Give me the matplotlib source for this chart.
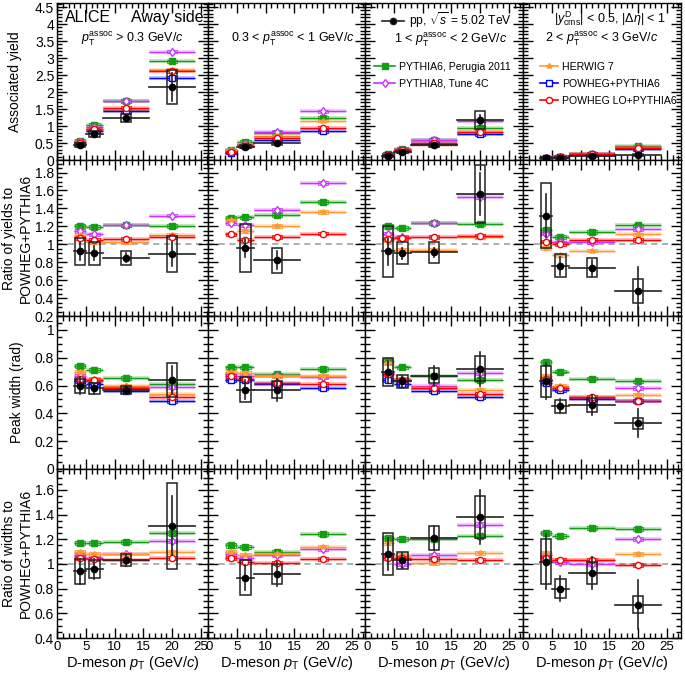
import numpy as np
import matplotlib.pyplot as plt
from matplotlib.patches import Rectangle
from matplotlib.lines import Line2D
from matplotlib.ticker import MultipleLocator, FuncFormatter
from matplotlib.transforms import offset_copy

plt.rcParams['font.family'] = ['Liberation Sans', 'DejaVu Sans']
plt.rcParams['mathtext.fontset'] = 'custom'
plt.rcParams['mathtext.rm'] = 'Liberation Sans'
plt.rcParams['mathtext.it'] = 'Liberation Sans:italic'
plt.rcParams['mathtext.bf'] = 'Liberation Sans:bold'

nan = np.nan

# D-meson pT bins (GeV/c)
pt_centres = [4, 6.5, 12, 20]
pt_low = [3, 5, 8, 16]
pt_high = [5, 8, 16, 24]

assoc_labels = [r'$p_{\rm T}^{\rm assoc}$ > 0.3 GeV/$c$',
                r'0.3 < $p_{\rm T}^{\rm assoc}$ < 1 GeV/$c$',
                r'1 < $p_{\rm T}^{\rm assoc}$ < 2 GeV/$c$',
                r'2 < $p_{\rm T}^{\rm assoc}$ < 3 GeV/$c$']

model_names = ['PYTHIA6, Perugia 2011', 'PYTHIA8, Tune 4C', 'HERWIG 7',
               'POWHEG+PYTHIA6', 'POWHEG LO+PYTHIA6']

# ---------------- associated yield ----------------
yield_data = [[0.43, 0.77, 1.23, 2.15], [nan, 0.39, 0.49, nan],
              [0.13, 0.24, 0.43, 1.18], [0.065, 0.07, 0.12, 0.16]]
yield_stat = [[0.04, 0.05, 0.05, 0.40], [0, 0.04, 0.04, 0],
              [0.01, 0.01, 0.03, 0.15], [0.01, 0.01, 0.02, 0.06]]
yield_sys = [[0.06, 0.085, 0.11, 0.49], [0, 0.05, 0.04, 0],
             [0.02, 0.03, 0.05, 0.27], [0.02, 0.01, 0.02, 0.03]]
yield_pythia6 = [[0.56, 1.02, 1.73, 2.90], [0.28, 0.52, 0.80, 1.25],
                 [0.17, 0.32, 0.58, 0.94], [0.06, 0.10, 0.18, 0.40]]
yield_pythia8 = [[0.54, 0.96, 1.73, 3.19], [0.27, 0.48, 0.83, 1.43],
                 [0.16, 0.29, 0.58, 1.16], [0.056, 0.092, 0.163, 0.39]]
yield_herwig = [[0.52, 0.88, 1.46, 2.66], [0.28, 0.46, 0.72, 1.16],
                [0.15, 0.25, 0.44, 0.82], [0.048, 0.079, 0.149, 0.37]]
yield_powheg = [[0.47, 0.86, 1.43, 2.42], [0.22, 0.40, 0.60, 0.85],
                [0.14, 0.27, 0.47, 0.76], [0.05, 0.09, 0.16, 0.33]]
yield_powheg_lo = [[0.50, 0.90, 1.52, 2.61], [0.245, 0.42, 0.65, 0.95],
                   [0.15, 0.29, 0.51, 0.83], [0.052, 0.09, 0.168, 0.35]]

# ---------------- ratio of yields ----------------
ryield_data = [[0.92, 0.90, 0.85, 0.89], [nan, 0.96, 0.82, nan],
               [0.92, 0.90, 0.91, 1.56], [1.32, 0.76, 0.74, 0.48]]
ryield_stat = [[0.10, 0.08, 0.05, 0.13], [0, 0.10, 0.10, 0],
               [0.15, 0.06, 0.05, 0.23], [0.24, 0.10, 0.09, 0.27]]
ryield_sys = [[0.155, 0.13, 0.08, 0.20], [0, 0.27, 0.14, 0],
              [0.28, 0.12, 0.12, 0.32], [0.36, 0.13, 0.11, 0.13]]
ryield_pythia6 = [[1.20, 1.19, 1.21, 1.20], [1.29, 1.30, 1.33, 1.47],
                  [1.20, 1.18, 1.24, 1.23], [1.16, 1.08, 1.14, 1.21]]
ryield_pythia8 = [[1.15, 1.11, 1.21, 1.32], [1.24, 1.21, 1.38, 1.68],
                  [1.12, 1.08, 1.24, 1.53], [1.12, 1.02, 1.02, 1.17]]
ryield_herwig = [[1.10, 1.02, 1.02, 1.10], [1.27, 1.15, 1.20, 1.36],
                 [1.05, 0.94, 0.94, 1.08], [0.96, 0.88, 0.93, 1.11]]
ryield_powheg_lo = [[1.07, 1.05, 1.06, 1.08], [1.11, 1.05, 1.08, 1.12],
                    [1.06, 1.07, 1.08, 1.09], [1.03, 1.00, 1.05, 1.05]]

# ---------------- peak width ----------------
width_data = [[0.60, 0.58, 0.57, 0.64], [nan, 0.57, 0.57, nan],
              [0.70, 0.63, 0.67, 0.72], [0.63, 0.45, 0.46, 0.33]]
width_stat = [[0.06, 0.04, 0.03, 0.10], [0, 0.07, 0.08, 0],
              [0.08, 0.04, 0.07, 0.12], [0.13, 0.05, 0.07, 0.10]]
width_sys = [[0.05, 0.04, 0.03, 0.12], [0, 0.09, 0.06, 0],
             [0.10, 0.045, 0.055, 0.09], [0.11, 0.045, 0.05, 0.04]]
width_pythia6 = [[0.74, 0.71, 0.655, 0.61], [0.73, 0.73, 0.68, 0.72],
                 [0.78, 0.73, 0.67, 0.64], [0.77, 0.70, 0.65, 0.63]]
width_pythia8 = [[0.67, 0.63, 0.59, 0.59], [0.68, 0.67, 0.67, 0.66],
                 [0.69, 0.64, 0.60, 0.69], [0.64, 0.58, 0.51, 0.58]]
width_herwig = [[0.70, 0.65, 0.60, 0.54], [0.70, 0.69, 0.67, 0.67],
                [0.76, 0.65, 0.58, 0.57], [0.67, 0.60, 0.52, 0.53]]
width_powheg = [[0.63, 0.61, 0.56, 0.49], [0.64, 0.64, 0.61, 0.58],
                [0.64, 0.61, 0.56, 0.52], [0.62, 0.57, 0.50, 0.49]]
width_powheg_lo = [[0.65, 0.64, 0.58, 0.52], [0.67, 0.65, 0.62, 0.61],
                   [0.68, 0.64, 0.58, 0.54], [0.65, 0.58, 0.52, 0.49]]

# ---------------- ratio of widths ----------------
rwidth_data = [[0.94, 0.96, 1.03, 1.31], [nan, 0.89, 0.92, nan],
               [1.08, 1.03, 1.21, 1.38], [1.02, 0.80, 0.93, 0.67]]
rwidth_stat = [[0.10, 0.08, 0.05, 0.24], [0, 0.10, 0.10, 0],
               [0.13, 0.06, 0.10, 0.22], [0.22, 0.10, 0.13, 0.20]]
rwidth_sys = [[0.10, 0.07, 0.05, 0.35], [0, 0.14, 0.08, 0],
              [0.17, 0.07, 0.10, 0.17], [0.18, 0.075, 0.09, 0.07]]
rwidth_pythia6 = [[1.17, 1.17, 1.18, 1.25], [1.15, 1.14, 1.10, 1.24],
                  [1.21, 1.20, 1.20, 1.23], [1.25, 1.23, 1.29, 1.28]]
rwidth_pythia8 = [[1.07, 1.05, 1.08, 1.19], [1.08, 1.05, 1.07, 1.12],
                  [1.07, 1.00, 1.07, 1.32], [1.07, 1.02, 1.00, 1.20]]
rwidth_herwig = [[1.10, 1.08, 1.08, 1.10], [1.10, 1.07, 1.08, 1.14],
                 [1.17, 1.07, 1.01, 1.09], [1.09, 1.03, 1.03, 1.08]]
rwidth_powheg_lo = [[1.05, 1.04, 1.03, 1.05], [1.05, 1.02, 1.01, 1.04],
                    [1.05, 1.05, 1.04, 1.03], [1.05, 1.03, 1.03, 0.99]]

GREEN = '#12a012'
MAGENTA = '#cc33ff'
ORANGE = '#ff9933'
BLUE = '#0000ff'
RED = '#ff0000'

model_styles = {
    'PYTHIA6, Perugia 2011': (GREEN, 's', True),
    'PYTHIA8, Tune 4C': (MAGENTA, 'd', False),
    'HERWIG 7': (ORANGE, '*', True),
    'POWHEG+PYTHIA6': (BLUE, 's', False),
    'POWHEG LO+PYTHIA6': (RED, 'o', False),
}

rows = [
    dict(data=(yield_data, yield_stat, yield_sys),
         models=[('PYTHIA6, Perugia 2011', yield_pythia6), ('PYTHIA8, Tune 4C', yield_pythia8),
                 ('HERWIG 7', yield_herwig), ('POWHEG+PYTHIA6', yield_powheg),
                 ('POWHEG LO+PYTHIA6', yield_powheg_lo)],
         ylim=(0, 4.62), major=0.5, minor=0.1, ratio=False),
    dict(data=(ryield_data, ryield_stat, ryield_sys),
         models=[('PYTHIA6, Perugia 2011', ryield_pythia6), ('PYTHIA8, Tune 4C', ryield_pythia8),
                 ('HERWIG 7', ryield_herwig), ('POWHEG LO+PYTHIA6', ryield_powheg_lo)],
         ylim=(0.2, 1.94), major=0.2, minor=0.05, ratio=True),
    dict(data=(width_data, width_stat, width_sys),
         models=[('PYTHIA6, Perugia 2011', width_pythia6), ('PYTHIA8, Tune 4C', width_pythia8),
                 ('HERWIG 7', width_herwig), ('POWHEG+PYTHIA6', width_powheg),
                 ('POWHEG LO+PYTHIA6', width_powheg_lo)],
         ylim=(0, 1.1), major=0.2, minor=0.05, ratio=False),
    dict(data=(rwidth_data, rwidth_stat, rwidth_sys),
         models=[('PYTHIA6, Perugia 2011', rwidth_pythia6), ('PYTHIA8, Tune 4C', rwidth_pythia8),
                 ('HERWIG 7', rwidth_herwig), ('POWHEG LO+PYTHIA6', rwidth_powheg_lo)],
         ylim=(0.4, 1.77), major=0.2, minor=0.05, ratio=True),
]

# panel frames in pixels (image is 685 x 674)
W, H = 685, 674
col_edges = [57, 208, 365, 523, 681]
row_edges = [3, 160, 316, 469, 638]
px_per_unit = 5.75

ylabels = ['Associated yield', 'Ratio of yields to\nPOWHEG+PYTHIA6',
           'Peak width (rad)', 'Ratio of widths to\nPOWHEG+PYTHIA6']
# right edge of each y label, in pixels
ylabel_right = [22, 33, 24, 33]


def draw_model(ax, vals, name, yr):
    colour, marker, filled = model_styles[name]
    half = 0.012 * (yr[1] - yr[0])
    for xc, lo, hi, v in zip(pt_centres, pt_low, pt_high, vals):
        ax.plot([lo, hi], [v, v], color=colour, lw=2.8, alpha=0.25, solid_capstyle='butt')
        ax.plot([lo, hi], [v, v], color=colour, lw=1.0, solid_capstyle='butt')
        ax.add_patch(Rectangle((xc - 0.9, v - half), 1.8, 2 * half, fill=False,
                               edgecolor=colour, lw=0.8, alpha=0.8))
    ax.plot(pt_centres, vals, linestyle='none', marker=marker, ms=4.5 if marker != '*' else 4,
            color=colour, mfc=colour if filled else 'white', mew=1.0)


def draw_data(ax, vals, stat, sys):
    for xc, lo, hi, v, e, s in zip(pt_centres, pt_low, pt_high, vals, stat, sys):
        if np.isnan(v):
            continue
        ax.add_patch(Rectangle((xc - 0.9, v - s), 1.8, 2 * s, fill=False,
                               edgecolor='#222222', lw=1.1, zorder=5))
        ax.plot([lo, hi], [v, v], color='#222222', lw=1.2, zorder=5)
        ax.plot([xc, xc], [v - e, v + e], color='#222222', lw=1.2, zorder=5)
    ax.plot(pt_centres, vals, 'o', color='black', ms=4.5, zorder=6)


fig = plt.figure(figsize=(W / 100, H / 100), dpi=100)

axes = []
for r, row in enumerate(rows):
    for c in range(4):
        left = col_edges[c] / W
        width = (col_edges[c + 1] - col_edges[c]) / W
        bottom = 1 - row_edges[r + 1] / H
        height = (row_edges[r + 1] - row_edges[r]) / H
        ax = fig.add_axes([left, bottom, width, height])
        axes.append(ax)

        xmax = (col_edges[c + 1] - col_edges[c]) / px_per_unit
        ax.set_xlim(0, xmax)
        ax.set_ylim(*row['ylim'])

        if row['ratio']:
            ax.axhline(1, color='#999999', ls='--', lw=1.1, dashes=(4, 3), zorder=1)

        for name, series in row['models']:
            draw_model(ax, series[c], name, row['ylim'])
        d, st, sy = row['data']
        draw_data(ax, d[c], st[c], sy[c])

        ax.xaxis.set_major_locator(MultipleLocator(5))
        ax.xaxis.set_minor_locator(MultipleLocator(1))
        ax.yaxis.set_major_locator(MultipleLocator(row['major']))
        ax.yaxis.set_minor_locator(MultipleLocator(row['minor']))
        ax.tick_params(which='both', direction='in', top=True, right=True, labelsize=10,
                       width=1, pad=2)
        ax.tick_params(axis='x', labelsize=9.5)
        ax.tick_params(which='major', length=7)
        ax.tick_params(which='minor', length=3.5)
        ax.yaxis.set_major_formatter(FuncFormatter(lambda v, p: '%g' % round(v, 3)))
        for sp in ax.spines.values():
            sp.set_linewidth(1)
        if c > 0:
            ax.set_yticklabels([])
        if r < 3:
            ax.set_xticklabels([])
        else:
            ax.set_xlabel(r'D-meson $p_{\rm T}$ (GeV/$c$)', fontsize=10.5, labelpad=1)
        if c == 0:
            ax.set_ylabel(ylabels[r], fontsize=10, linespacing=1.25)
            ax.yaxis.set_label_coords((ylabel_right[r] - col_edges[0]) / (col_edges[1] - col_edges[0]), 0.5)

# labels in the top row
ax0, ax1, ax2, ax3 = axes[0], axes[1], axes[2], axes[3]
ax0.text(0.05, 0.905, 'ALICE', transform=ax0.transAxes, fontsize=11.5, va='center')
ax0.text(0.97, 0.905, 'Away side', transform=ax0.transAxes, fontsize=11.5, va='center', ha='right')
ax0.text(0.50, 0.77, assoc_labels[0], transform=ax0.transAxes, fontsize=9, va='center', ha='center')
ax1.text(0.54, 0.77, assoc_labels[1], transform=ax1.transAxes, fontsize=9, va='center', ha='center')
ax2.text(0.54, 0.765, assoc_labels[2], transform=ax2.transAxes, fontsize=9, va='center', ha='center')
ax3.text(0.55, 0.90, r'$|y^{\rm D}_{\rm cms}|$ < 0.5, $|\Delta\eta|$ < 1', transform=ax3.transAxes,
         fontsize=9, va='center', ha='center')
ax3.text(0.50, 0.77, assoc_labels[3], transform=ax3.transAxes, fontsize=9, va='center', ha='center')


def handle(name):
    colour, marker, filled = model_styles[name]
    return Line2D([], [], color=colour, marker=marker, ms=4.5 if marker != '*' else 4,
                  mfc=colour if filled else 'white', mew=1.0, lw=1.2)


data_handle = Line2D([], [], color='#222222', marker='o', ms=4.5, mfc='black', lw=1.2)
leg_data = ax2.legend([data_handle], [r'pp, $\sqrt{s}$ = 5.02 TeV'], loc='upper left',
                      bbox_to_anchor=(0.11, 0.955), frameon=False, fontsize=8.7,
                      handlelength=1.8, handletextpad=0.4, borderpad=0, borderaxespad=0)
ax2.add_artist(leg_data)
ax2.legend([handle(n) for n in model_names[:2]], model_names[:2], loc='upper left',
           bbox_to_anchor=(0.06, 0.625), frameon=False, fontsize=7.6, handlelength=1.9,
           handletextpad=0.4, labelspacing=0.65, borderpad=0, borderaxespad=0)
ax3.legend([handle(n) for n in model_names[2:]], model_names[2:], loc='upper left',
           bbox_to_anchor=(0.11, 0.625), frameon=False, fontsize=7.6, handlelength=1.7,
           handletextpad=0.35, labelspacing=0.65, borderpad=0, borderaxespad=0)

# nudge the "0" of the lower panels 2-4 so it does not run into the "25" on its left
fig.canvas.draw()
for ax in axes[13:]:
    for tick in ax.xaxis.get_major_ticks():
        if abs(tick.get_loc()) < 1e-9:
            tick.label1.set_horizontalalignment('left')
            tick.label1.set_transform(offset_copy(tick.label1.get_transform(), fig=fig,
                                                  x=-2, units='dots'))

fig.savefig('out.png', dpi=100)
